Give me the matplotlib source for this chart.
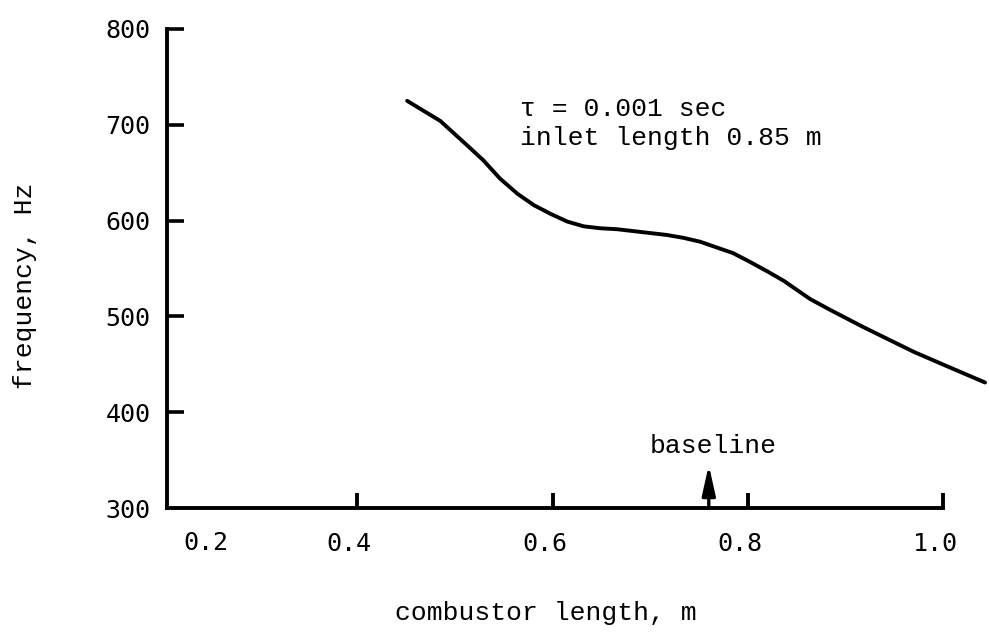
import matplotlib.pyplot as plt
import matplotlib.transforms as mtransforms

# curve
combustor_length = [0.451, 0.485, 0.512, 0.529, 0.546, 0.564, 0.581, 0.598,
                    0.615, 0.632, 0.649, 0.666, 0.683, 0.700, 0.717, 0.734,
                    0.751, 0.768, 0.785, 0.802, 0.820, 0.837, 0.854, 0.864,
                    0.884, 0.918, 0.946, 0.970, 1.004, 1.043]
frequency = [725, 704, 679, 663, 644, 628, 616, 607,
             599, 594, 592, 591, 589, 587, 585, 582,
             578, 572, 566, 557, 547, 537, 525, 518,
             507, 489, 475, 463, 448, 431]

y_ticks = [300, 400, 500, 600, 700, 800]
x_ticks = [0.4, 0.6, 0.8, 1.0]
x_tick_labels = ['0.4', '0.6', '0.8', '1.0']
baseline_length = 0.76

mono = 'DejaVu Sans Mono'
typewriter = 'Liberation Mono'

fig = plt.figure(figsize=(9.89, 6.33), dpi=100)
ax = fig.add_axes([167 / 989, 125 / 633, 820 / 989, 479 / 633])

ax.plot(combustor_length, frequency, color='black', linewidth=2.8,
        solid_capstyle='round', solid_joinstyle='round', clip_on=False)

ax.set_xlim(0.205, 1.045)
ax.set_ylim(300, 800)

# only left and bottom axes, bottom one stops at 1.0
for side in ['top', 'right']:
    ax.spines[side].set_visible(False)
ax.spines['left'].set_linewidth(2.8)
ax.spines['bottom'].set_linewidth(2.8)
ax.spines['bottom'].set_bounds(0.205, 1.0)

ax.set_yticks(y_ticks)
ax.set_yticklabels([str(v) for v in y_ticks], fontfamily=mono, fontsize=18)
ax.set_xticks(x_ticks)
ax.set_xticklabels(x_tick_labels, fontfamily=mono, fontsize=18)
ax.tick_params(axis='y', direction='in', length=12.5, width=2.6, pad=12)
ax.tick_params(axis='x', direction='in', length=11, width=2.8, pad=17)
ax.yaxis.get_major_ticks()[0].tick1line.set_visible(False)

# x labels sit a bit left of their ticks
shift = mtransforms.ScaledTranslation(-8 / 100, 0, fig.dpi_scale_trans)
for lbl in ax.get_xticklabels():
    lbl.set_transform(lbl.get_transform() + shift)

# the 0.2 label has no tick of its own
ax.text(0.245, -0.074, '0.2', transform=ax.get_xaxis_transform(),
        fontfamily=mono, fontsize=18, ha='center', va='center')

# annotation text
ax.text(0.567, 716, '\u03c4 = 0.001 sec', fontfamily=typewriter, fontsize=19,
        ha='left', va='center')
ax.text(0.567, 686, 'inlet length 0.85 m', fontfamily=typewriter, fontsize=19,
        ha='left', va='center')

# baseline arrow
ax.annotate('', xy=(baseline_length, 345), xytext=(baseline_length, 300),
            arrowprops=dict(arrowstyle='-|>,head_length=1.8,head_width=0.4',
                            color='black', lw=2.4, shrinkA=0, shrinkB=0))
ax.text(baseline_length + 0.005, 365, 'baseline', fontfamily=typewriter,
        fontsize=19, ha='center', va='center')

fig.text(546 / 989, 1 - 613 / 633, 'combustor length, m', fontfamily=typewriter,
         fontsize=19, ha='center', va='center')
fig.text(25 / 989, 1 - 286 / 633, 'frequency, Hz', fontfamily=typewriter,
         fontsize=19, ha='center', va='center', rotation=90)

fig.savefig('out.png', dpi=100)
